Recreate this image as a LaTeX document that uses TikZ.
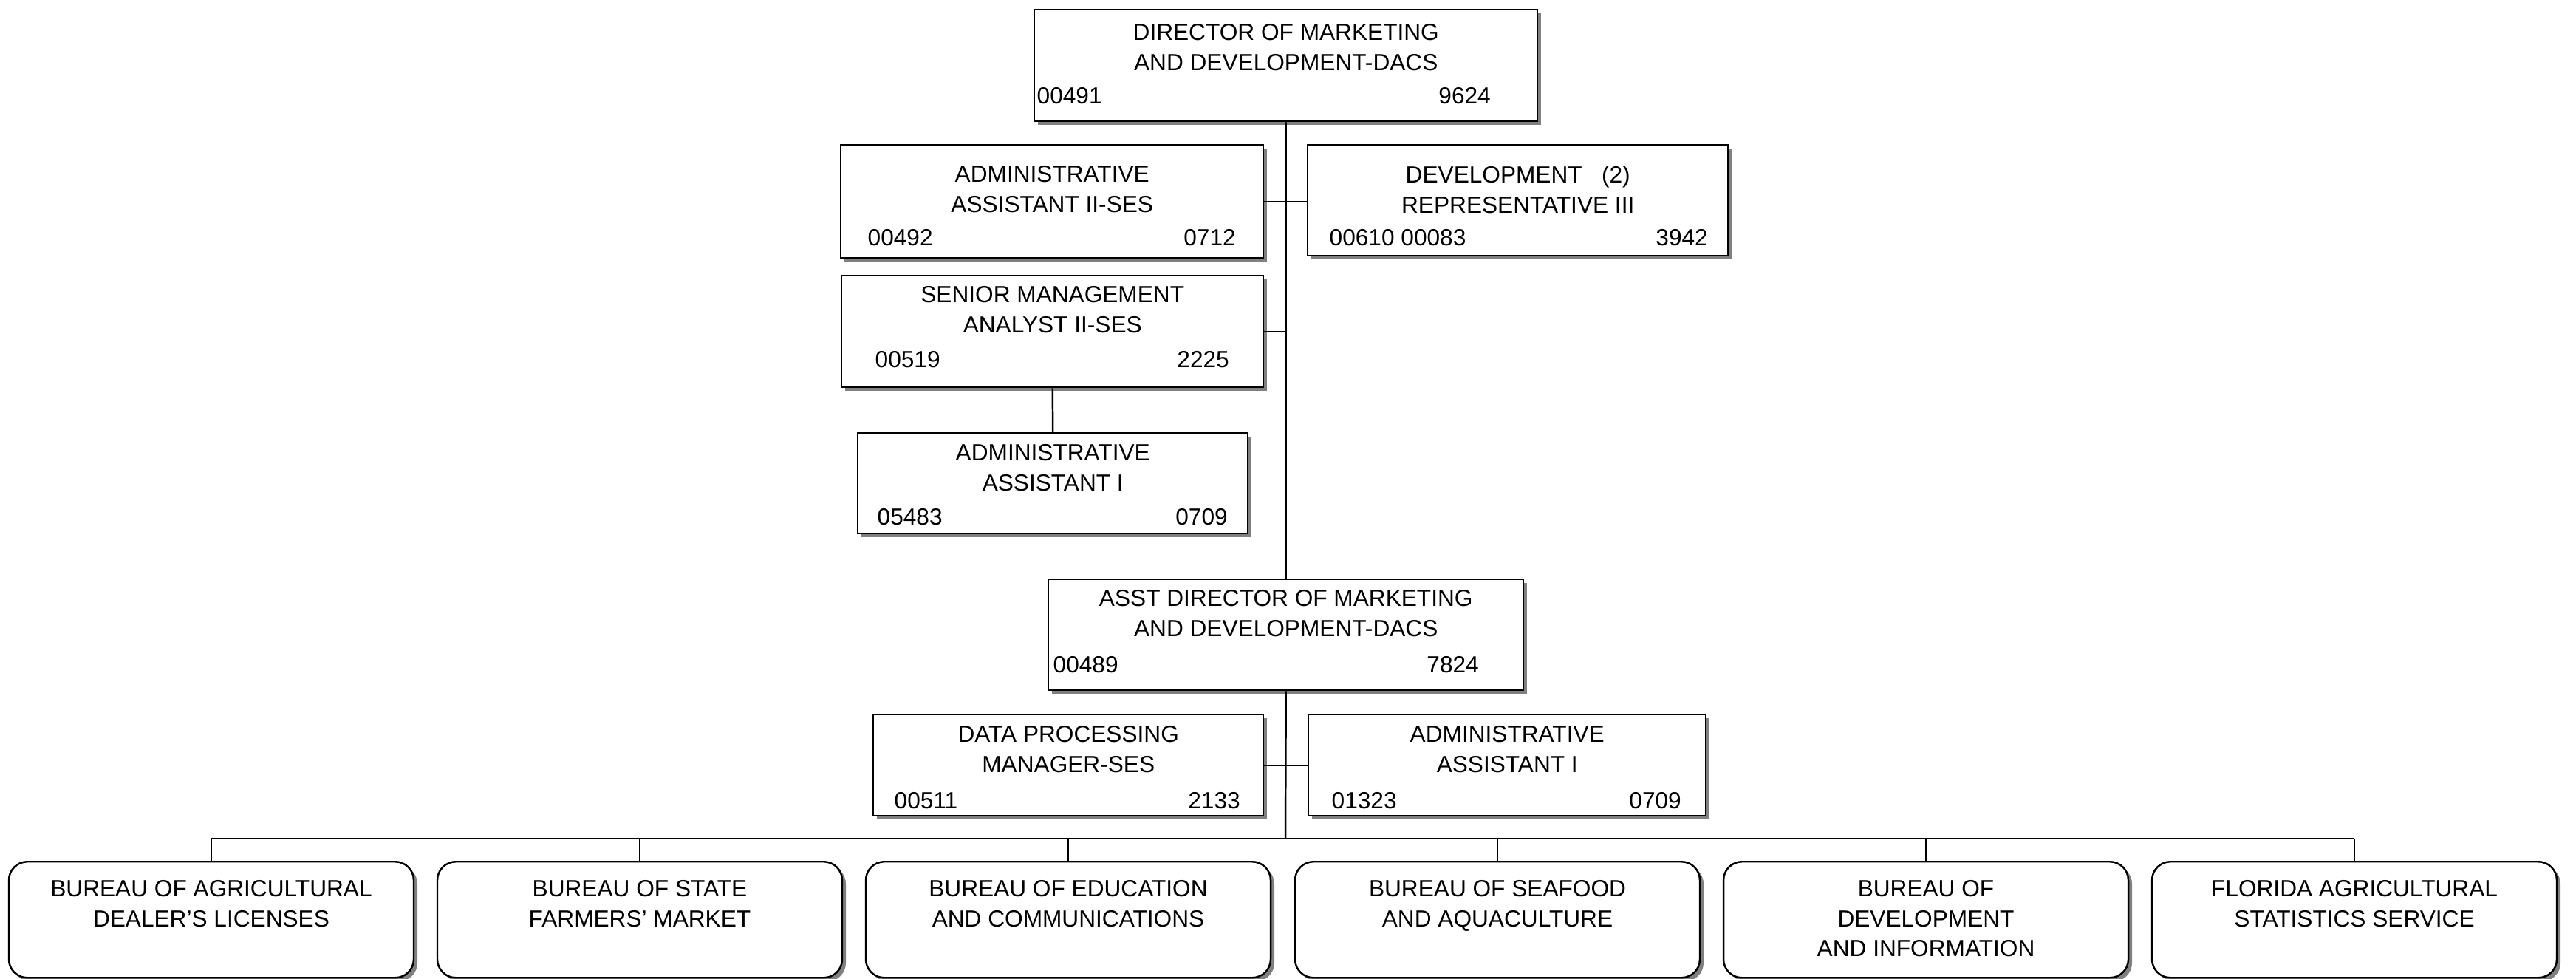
\documentclass[tikz,border=0pt]{standalone}
\usepackage{fontspec}
\setmainfont{Liberation Sans}
\usepackage{tikz}
\usetikzlibrary{positioning,shadows}
\definecolor{shadowgrey}{HTML}{808080}
\newcommand{\chartfont}{\fontsize{9}{11.5}\selectfont}
\tikzset{
  jobbox/.style={draw, line width=0.7pt, fill=white, inner sep=0pt, anchor=north west,
    drop shadow={shadow xshift=0.05cm, shadow yshift=-0.05cm, fill=shadowgrey, opacity=1}},
  bureau/.style={jobbox, anchor=north, rounded corners=0.25cm,
    minimum width=5.48cm, minimum height=1.57cm},
  jobname/.style={align=center, inner sep=0pt, font=\chartfont},
  jobno/.style={inner sep=0pt, font=\chartfont},
  wire/.style={line width=0.7pt}
}

\begin{document}
\begin{tikzpicture}

  \useasboundingbox (0,0) rectangle (34.87,-13.24);

  % director
  \node[jobbox, minimum width=6.81cm, minimum height=1.51cm] (dir) at (13.99,-0.12) {};
  \node[jobname, below=0.20cm of dir.north] (dir-name) {DIRECTOR OF MARKETING\\AND DEVELOPMENT-DACS};
  \node[jobno, above right=0.24cm and 0.04cm of dir.south west] (dir-pos) {00491};
  \node[jobno, above left=0.24cm and 0.64cm of dir.south east] (dir-cls) {9624};

  % staff under the director
  \node[jobbox, minimum width=5.72cm, minimum height=1.53cm] (aa2) at (11.37,-1.95) {};
  \node[jobname, below=0.29cm of aa2.north] (aa2-name) {ADMINISTRATIVE\\ASSISTANT II-SES};
  \node[jobno, above right=0.17cm and 0.37cm of aa2.south west] (aa2-pos) {00492};
  \node[jobno, above left=0.17cm and 0.38cm of aa2.south east] (aa2-cls) {0712};

  \node[jobbox, minimum width=5.69cm, minimum height=1.50cm] (dev) at (17.69,-1.95) {};
  \node[jobname, below=0.29cm of dev.north] (dev-name) {DEVELOPMENT\ \ \ (2)\\REPRESENTATIVE III};
  \node[jobno, above right=0.14cm and 0.30cm of dev.south west] (dev-pos) {00610 00083};
  \node[jobno, above left=0.14cm and 0.28cm of dev.south east] (dev-cls) {3942};

  \node[jobbox, minimum width=5.71cm, minimum height=1.51cm] (sma) at (11.38,-3.72) {};
  \node[jobname, below=0.15cm of sma.north] (sma-name) {SENIOR MANAGEMENT\\ANALYST II-SES};
  \node[jobno, above right=0.27cm and 0.46cm of sma.south west] (sma-pos) {00519};
  \node[jobno, above left=0.27cm and 0.47cm of sma.south east] (sma-cls) {2225};

  \node[jobbox, minimum width=5.28cm, minimum height=1.36cm] (aa1) at (11.60,-5.85) {};
  \node[jobname, below=0.16cm of aa1.north] (aa1-name) {ADMINISTRATIVE\\ASSISTANT I};
  \node[jobno, above right=0.12cm and 0.27cm of aa1.south west] (aa1-pos) {05483};
  \node[jobno, above left=0.12cm and 0.28cm of aa1.south east] (aa1-cls) {0709};

  % assistant director and staff
  \node[jobbox, minimum width=6.43cm, minimum height=1.50cm] (asst) at (14.18,-7.83) {};
  \node[jobname, below=0.15cm of asst.north] (asst-name) {ASST DIRECTOR OF MARKETING\\AND DEVELOPMENT-DACS};
  \node[jobno, above right=0.24cm and 0.07cm of asst.south west] (asst-pos) {00489};
  \node[jobno, above left=0.24cm and 0.61cm of asst.south east] (asst-cls) {7824};

  \node[jobbox, minimum width=5.28cm, minimum height=1.37cm] (dp) at (11.81,-9.66) {};
  \node[jobname, below=0.16cm of dp.north] (dp-name) {DATA PROCESSING\\MANAGER-SES};
  \node[jobno, above right=0.10cm and 0.29cm of dp.south west] (dp-pos) {00511};
  \node[jobno, above left=0.10cm and 0.32cm of dp.south east] (dp-cls) {2133};

  \node[jobbox, minimum width=5.38cm, minimum height=1.37cm] (aa1b) at (17.70,-9.66) {};
  \node[jobname, below=0.16cm of aa1b.north] (aa1b-name) {ADMINISTRATIVE\\ASSISTANT I};
  \node[jobno, above right=0.10cm and 0.32cm of aa1b.south west] (aa1b-pos) {01323};
  \node[jobno, above left=0.10cm and 0.34cm of aa1b.south east] (aa1b-cls) {0709};

  % bureaus
  \node[bureau] (b1) at (2.86,-11.65) {};
  \node[bureau] (b2) at (8.66,-11.65) {};
  \node[bureau] (b3) at (14.46,-11.65) {};
  \node[bureau] (b4) at (20.27,-11.65) {};
  \node[bureau] (b5) at (26.07,-11.65) {};
  \node[bureau] (b6) at (31.87,-11.65) {};
  \node[jobname, below=0.26cm of b1.north] (b1-name) {BUREAU OF AGRICULTURAL\\DEALER'S LICENSES};
  \node[jobname, below=0.26cm of b2.north] (b2-name) {BUREAU OF STATE\\FARMERS' MARKET};
  \node[jobname, below=0.26cm of b3.north] (b3-name) {BUREAU OF EDUCATION\\AND COMMUNICATIONS};
  \node[jobname, below=0.26cm of b4.north] (b4-name) {BUREAU OF SEAFOOD\\AND AQUACULTURE};
  \node[jobname, below=0.26cm of b5.north] (b5-name) {BUREAU OF\\DEVELOPMENT\\AND INFORMATION};
  \node[jobname, below=0.26cm of b6.north] (b6-name) {FLORIDA AGRICULTURAL\\STATISTICS SERVICE};

  % lines
  \coordinate (bus) at (17.40,-11.35);
  \draw[wire] (dir.south) -- (asst.north);
  \draw[wire] (asst.south) -- (bus);
  \draw[wire] (aa2.east) -- (dev.west |- aa2.east);
  \draw[wire] (sma.east) -- (sma.east -| dir.south);
  \draw[wire] (sma.south) -- (aa1.north);
  \draw[wire] (dp.east) -- (aa1b.west |- dp.east);
  \draw[wire] (b1.north |- bus) -- (b6.north |- bus);
  \foreach \i in {1,...,6}
    \draw[wire] (b\i.north |- bus) -- (b\i.north);

\end{tikzpicture}
\end{document}
